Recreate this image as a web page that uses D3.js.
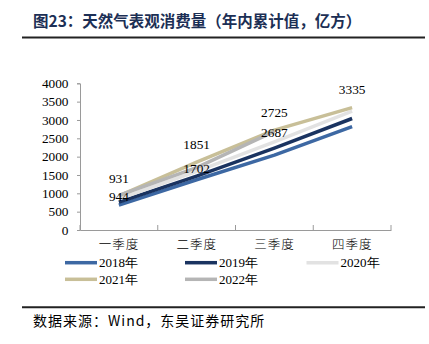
<!DOCTYPE html>
<html>
<head>
<meta charset="utf-8">
<script src="https://cdn.jsdelivr.net/npm/d3@7"></script>
<style>
  html, body { margin: 0; padding: 0; background: #fff; }
  svg { display: block; }
</style>
</head>
<body>
<svg id="chart" width="429" height="344"></svg>
<script>
// ---- data ----
const categories = ["一季度", "二季度", "三季度", "四季度"];
const seriesNames = ["2018年", "2019年", "2020年", "2021年", "2022年"];
const values2018 = [680, 1370, 2040, 2820];
const values2019 = [760, 1470, 2230, 3040];
const values2020 = [850, 1600, 2400, 3240];
const values2021 = [931, 1851, 2725, 3335];
const values2022 = [944, 1702, 2687, null];
const yTicks = [0, 500, 1000, 1500, 2000, 2500, 3000, 3500, 4000];
const titleText = "图23：天然气表观消费量（年内累计值，亿方）";
const sourceText = "数据来源：Wind，东吴证券研究所";

// ---- styles ----
const colors = ["#3d68a3", "#1a3360", "#e2e2e2", "#c8bf98", "#b5b5b5"];
const serifFont = "'Liberation Serif', 'Times New Roman', serif";
const cjkFont = "'Noto Sans CJK SC', sans-serif";

const svg = d3.select("#chart");
const allSeries = [values2018, values2019, values2020, values2021, values2022];

const x = d3.scaleBand().domain(categories).range([80, 391]).padding(0);
const y = d3.scaleLinear().domain([0, 4000]).range([230, 83.3]);
const cx = c => x(c) + x.bandwidth() / 2;

// title
svg.append("text")
  .attr("x", 33).attr("y", 27)
  .attr("font-family", cjkFont).attr("font-weight", "bold")
  .attr("font-size", 15.5).attr("fill", "#1c2f55")
  .text(titleText);
svg.append("line").attr("x1", 22).attr("x2", 425).attr("y1", 37.5).attr("y2", 37.5)
  .attr("stroke", "#222").attr("stroke-width", 2);

// y axis
const yAxis = svg.append("g").attr("transform", "translate(80,0)")
  .call(d3.axisLeft(y).tickValues(yTicks).tickSize(3).tickPadding(8.5).tickFormat(d3.format("d")));
yAxis.select(".domain").attr("stroke", "#9a9a9a");
yAxis.selectAll(".tick line").attr("stroke", "#9a9a9a");
yAxis.selectAll(".tick text").attr("font-family", serifFont).attr("font-size", 13.3).attr("fill", "#000");

// x axis
const xAxis = svg.append("g").attr("transform", "translate(0,230)")
  .call(d3.axisBottom(x).tickSize(0).tickPadding(10).tickSizeOuter(0));
xAxis.select(".domain").attr("stroke", "#9a9a9a");
xAxis.selectAll(".tick text").attr("font-family", cjkFont).attr("font-size", 12.5).attr("fill", "#000")
  .attr("font-weight", 300).attr("letter-spacing", "1px");
// boundary ticks (pointing up)
const bounds = categories.map(c => x(c)).concat([x.range()[1]]);
svg.append("g").selectAll("line").data(bounds).join("line")
  .attr("x1", d => d).attr("x2", d => d).attr("y1", 230).attr("y2", 225)
  .attr("stroke", "#9a9a9a");

// lines
const line = d3.line()
  .defined(d => d.v != null)
  .x(d => cx(d.c)).y(d => y(d.v));
allSeries.forEach((vals, i) => {
  svg.append("path")
    .datum(vals.map((v, j) => ({ c: categories[j], v })))
    .attr("d", line)
    .attr("fill", "none")
    .attr("stroke", colors[i])
    .attr("stroke-width", 3.5)
    .attr("stroke-linejoin", "round");
});

// data labels: 2021 above the point, 2022 centered on the point
svg.append("g").selectAll("text").data(values2021.map((v, j) => ({ c: categories[j], v }))).join("text")
  .attr("x", d => cx(d.c)).attr("y", d => y(d.v) - 18)
  .attr("dy", "0.35em").attr("text-anchor", "middle")
  .attr("font-family", serifFont).attr("font-size", 13.3).attr("fill", "#000")
  .text(d => d.v);
svg.append("g").selectAll("text").data(values2022.map((v, j) => ({ c: categories[j], v })).filter(d => d.v != null)).join("text")
  .attr("x", d => cx(d.c)).attr("y", d => y(d.v) + 0.5)
  .attr("dy", "0.35em").attr("text-anchor", "middle")
  .attr("font-family", serifFont).attr("font-size", 13.3).attr("fill", "#000")
  .text(d => d.v);

// legend
const legendPos = [[65, 262.7], [185, 262.7], [306.5, 262.7], [65, 279.3], [185, 279.3]];
const lg = svg.append("g").selectAll("g").data(seriesNames).join("g")
  .attr("transform", (d, i) => `translate(${legendPos[i][0]},${legendPos[i][1]})`);
lg.append("line").attr("x1", 0).attr("x2", 32).attr("y1", 0).attr("y2", 0)
  .attr("stroke", (d, i) => colors[i]).attr("stroke-width", 3.5);
lg.append("text").attr("x", 34).attr("y", 0).attr("dy", "0.35em")
  .attr("font-family", serifFont).attr("font-size", 13).attr("fill", "#000")
  .text(d => d);

// bottom rule and source
svg.append("line").attr("x1", 22).attr("x2", 425).attr("y1", 307.3).attr("y2", 307.3)
  .attr("stroke", "#222").attr("stroke-width", 2);
svg.append("text").attr("x", 33).attr("y", 321).attr("dy", "0.35em")
  .attr("font-family", cjkFont).attr("font-size", 14).attr("fill", "#000")
  .attr("letter-spacing", "1px")
  .text(sourceText);
</script>
</body>
</html>
